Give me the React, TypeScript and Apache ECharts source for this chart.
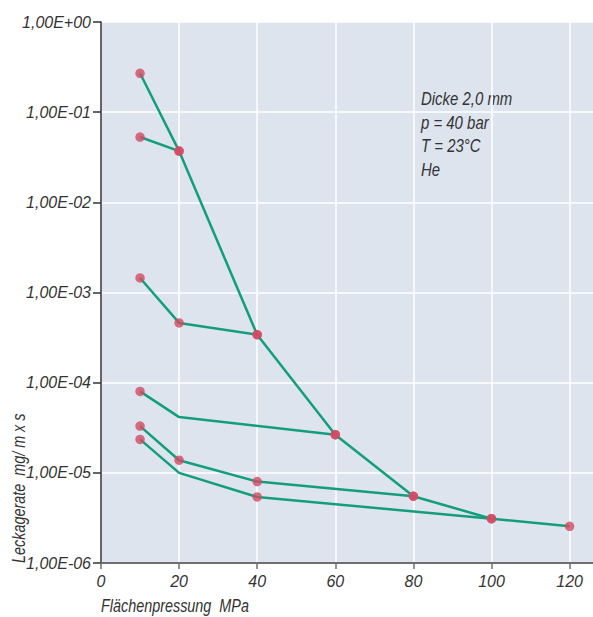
import React, { useEffect, useRef } from "react";
import * as echarts from "echarts";

// Data (x: Flächenpressung MPa, y: Leckagerate mg/(m x s))
const seriesA_x = [10, 20, 40, 60, 80, 100, 120];
const seriesA_y = [0.27, 0.037, 3.4e-4, 2.65e-5, 5.5e-6, 3.1e-6, 2.55e-6];
const seriesA_marked = [true, true, true, true, true, true, true];

const seriesB_x = [10, 20];
const seriesB_y = [0.053, 0.037];
const seriesB_marked = [true, true];

const seriesC_x = [10, 20, 40];
const seriesC_y = [1.45e-3, 4.6e-4, 3.4e-4];
const seriesC_marked = [true, true, true];

const seriesD_x = [10, 20, 60];
const seriesD_y = [8.0e-5, 4.15e-5, 2.65e-5];
const seriesD_marked = [true, false, true];

const seriesE_x = [10, 20, 40, 80];
const seriesE_y = [3.3e-5, 1.38e-5, 8.0e-6, 5.5e-6];
const seriesE_marked = [true, true, true, true];

const seriesF_x = [10, 20, 40, 100];
const seriesF_y = [2.35e-5, 1.0e-5, 5.4e-6, 3.1e-6];
const seriesF_marked = [true, false, true, true];

const xTicks = [0, 20, 40, 60, 80, 100, 120];
const annotationLines = ["Dicke 2,0 mm", "p = 40 bar", "T = 23°C", "He"];
const xTitle = "Flächenpressung  MPa";
const yTitle = "Leckagerate  mg/ m x s";

const FONT = "'Liberation Sans', Arial, sans-serif";

const allSeries = [
  { x: seriesA_x, y: seriesA_y, m: seriesA_marked },
  { x: seriesB_x, y: seriesB_y, m: seriesB_marked },
  { x: seriesC_x, y: seriesC_y, m: seriesC_marked },
  { x: seriesD_x, y: seriesD_y, m: seriesD_marked },
  { x: seriesE_x, y: seriesE_y, m: seriesE_marked },
  { x: seriesF_x, y: seriesF_y, m: seriesF_marked },
];

function fmtExp(v: number) {
  const e = Math.round(Math.log10(v));
  const s = e >= 0 ? "+" : "-";
  const a = Math.abs(e);
  return "1,00E" + s + (a < 10 ? "0" + a : "" + a);
}

export default function App() {
  const ref = useRef<HTMLDivElement>(null);
  useEffect(() => {
    document.body.style.margin = "0";
    const chart = echarts.init(ref.current!, null, { renderer: "svg" });
    const lineSeries = allSeries.map((s) => ({
      type: "line",
      data: s.x.map((xv, i) => [xv, s.y[i]]),
      symbol: "none",
      lineStyle: { color: "#129e7d", width: 2.5 },
      z: 3,
    }));
    const markers: number[][] = [];
    allSeries.forEach((s) =>
      s.x.forEach((xv, i) => {
        if (s.m[i]) markers.push([xv, s.y[i]]);
      })
    );
    const option = {
      animation: false,
      grid: {
        left: 101,
        top: 22,
        right: 0,
        bottom: 54,
        show: true,
        backgroundColor: "#dde4ee",
        borderWidth: 0,
      },
      xAxis: {
        type: "value",
        min: 0,
        max: 126,
        interval: 20,
        axisLine: { show: true, lineStyle: { color: "#6f6f6f", width: 2 } },
        axisTick: { show: true, length: 6, lineStyle: { color: "#6f6f6f", width: 1.5 }, customValues: xTicks },
        axisLabel: {
          customValues: xTicks,
          formatter: (v: number) => (v % 20 === 0 ? String(v) : ""),
          fontFamily: FONT,
          fontStyle: "italic",
          fontSize: 16,
          color: "#333",
          margin: 10,
        },
        splitLine: { show: true, lineStyle: { color: "#ffffff", width: 1.5 } },
      },
      yAxis: {
        type: "log",
        logBase: 10,
        min: 1e-6,
        max: 1,
        axisLine: { show: true, lineStyle: { color: "#333", width: 1.5 } },
        axisTick: { show: true, length: 8, lineStyle: { color: "#333", width: 1.5 } },
        axisLabel: {
          formatter: (v: number) => fmtExp(v),
          fontFamily: FONT,
          fontStyle: "italic",
          fontSize: 16,
          color: "#333",
          margin: 10,
        },
        splitLine: { show: true, lineStyle: { color: "#ffffff", width: 1.5 } },
      },
      series: [
        ...lineSeries,
        {
          type: "scatter",
          data: markers,
          symbol: "circle",
          symbolSize: 9.5,
          itemStyle: { color: "#d24a60" },
          z: 5,
        },
      ],
      graphic: [
        ...annotationLines.map((t, i) => ({
          type: "text",
          x: 421,
          y: 90 + i * 23.7,
          scaleX: 0.83,
          style: {
            text: t,
            font: `italic 18px ${FONT}`,
            fill: "#333",
            textAlign: "left",
            textVerticalAlign: "top",
          },
        })),
        {
          type: "text",
          x: 101,
          y: 596,
          scaleX: 0.8,
          style: {
            text: xTitle,
            font: `italic 18px ${FONT}`,
            fill: "#333",
            textAlign: "left",
            textVerticalAlign: "top",
          },
        },
        {
          type: "text",
          x: 27,
          y: 563,
          rotation: Math.PI / 2,
          scaleX: 0.8,
          style: {
            text: yTitle,
            font: `italic 18px ${FONT}`,
            fill: "#333",
            textAlign: "left",
            textVerticalAlign: "bottom",
          },
        },
      ],
    };
    chart.setOption(option as any);
    return () => chart.dispose();
  }, []);
  return <div ref={ref} style={{ width: 593, height: 617 }} />;
}
